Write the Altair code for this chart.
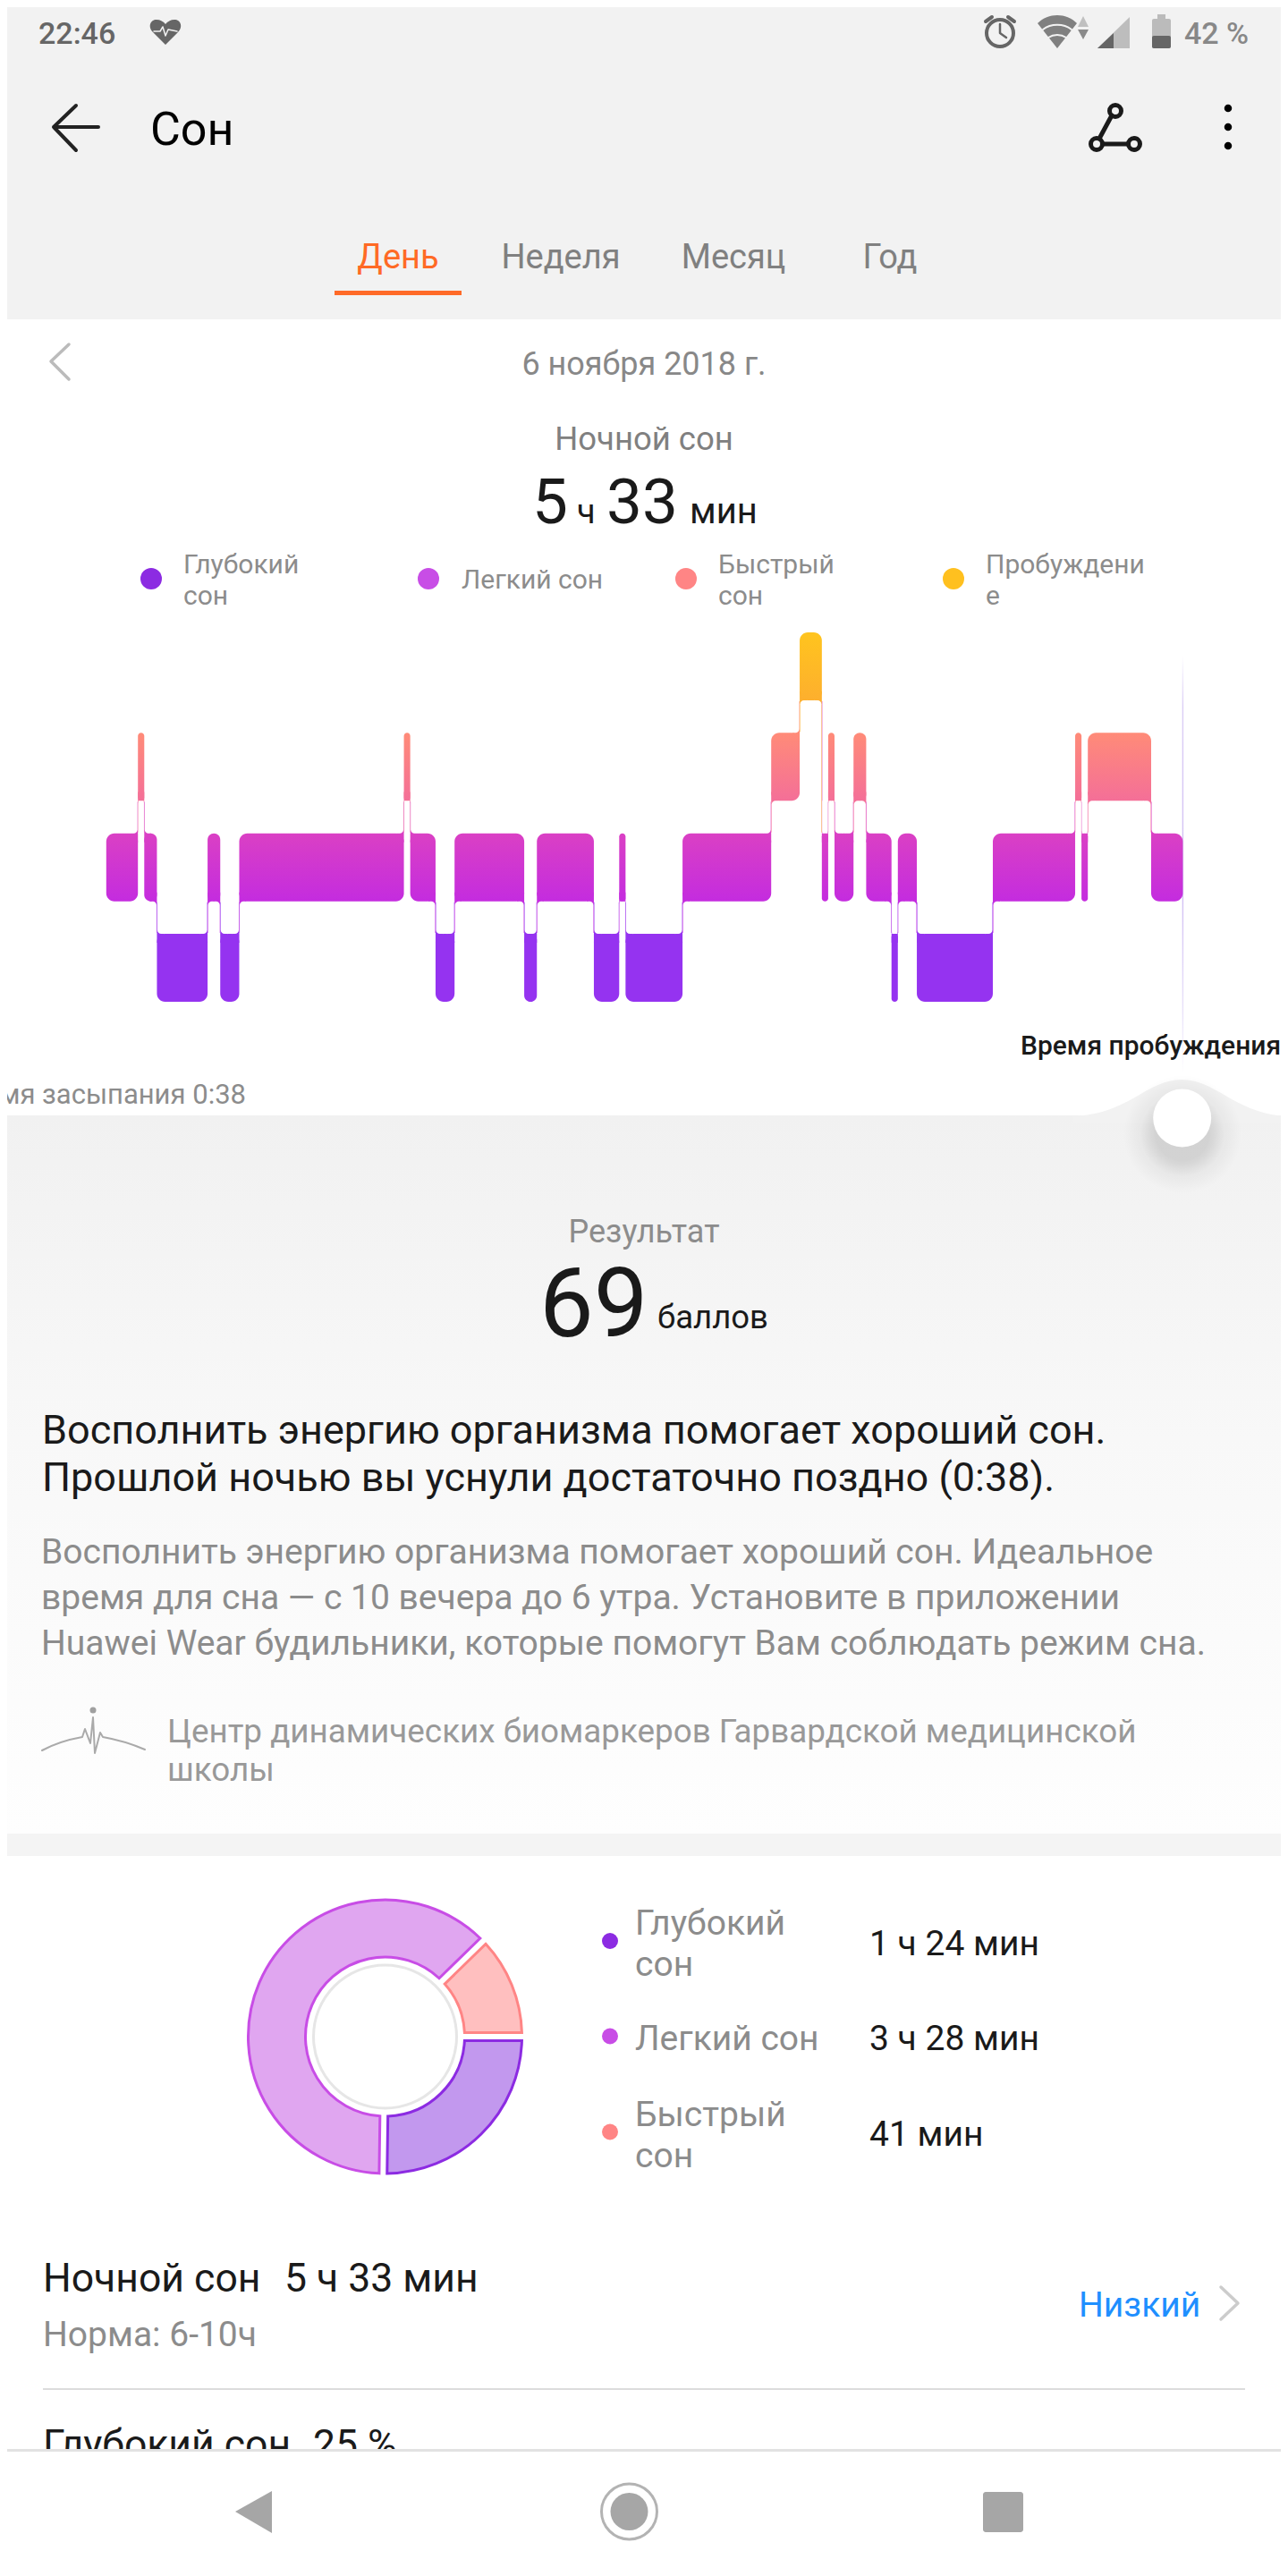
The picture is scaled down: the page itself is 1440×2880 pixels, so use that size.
import re

import altair as alt
import numpy as np
import pandas as pd

# sleep phases in order, minutes (deep 84, light 208, rem 41, awake 7)
phases = ["light", "rem", "light", "deep", "light", "deep", "light", "rem", "light", "deep", "light",
          "deep", "light", "deep", "light", "deep", "light", "rem", "awake", "light", "rem", "light",
          "rem", "light", "deep", "light", "deep", "light", "rem", "light", "rem", "light"]
minutes = [10, 2, 4, 16, 4, 6, 52, 2, 8, 6, 22,
           4, 18, 8, 2, 18, 28, 9, 7, 2, 2, 6,
           4, 8, 2, 6, 24, 26, 2, 2, 20, 10]
lanes = {"deep": 0, "light": 1, "rem": 2, "awake": 3}

donut_labels = ["deep", "light", "rem"]
donut_minutes = [84, 208, 41]
donut_fill = ["#c298ee", "#e0a6f0", "#ffbfbf"]
donut_stroke = ["#8c2be2", "#c84de6", "#ff8585"]

grad_top = {"deep": "#9533f0", "light": "#da40c4", "rem": "#ff8b78", "awake": "#ffc41e"}
grad_bottom = {"deep": "#9533f0", "light": "#c42cdf", "rem": "#f46f98", "awake": "#fdaf2e"}

FONT = "Roboto"
GRAY = "#8c8c8c"
INK = "#1a1a1a"
BAR_H = 0.677
PX = 3.54  # pixels per minute
LANE_PX = 112.3
FILLET = 9 / PX
GAP = 0.5 / PX
EXT = 10 / LANE_PX
TRIM_X = 1 / PX
TRIM_Y = 1 / LANE_PX

one = pd.DataFrame({"n": [0]})


def px(v):
    return v - 8


def rect(x, x2, y, y2, color, **kw):
    return alt.Chart(one).mark_rect(color=color, **kw).encode(
        x=alt.value(px(x)), x2=alt.value(px(x2)), y=alt.value(px(y)), y2=alt.value(px(y2)))


def label(text, x, y, size, color=GRAY, align="left", **kw):
    return alt.Chart(one).mark_text(font=FONT, fontSize=size, color=color, align=align,
                                    baseline="alphabetic", **kw).encode(
        x=alt.value(px(x)), y=alt.value(px(y)), text=alt.value(text))


def glyph(d, color, width=None, half=100.0, cx=720.0, cy=1440.0):
    # path is written in page pixels, symbols want it in -1..1 around the mark
    nums = iter(range(10000))

    def conv(m):
        v = float(m.group(0))
        c = cx if next(nums) % 2 == 0 else cy
        return f"{(v - c) / half:.5f}"

    shape = re.sub(r"-?\d+\.?\d*", conv, d)
    if width is None:
        mark = alt.Chart(one).mark_point(shape=shape, filled=True, color=color, opacity=1,
                                         size=(2 * half) ** 2)
    else:
        mark = alt.Chart(one).mark_point(shape=shape, filled=False, color=color, opacity=1,
                                         strokeWidth=width, strokeCap="round", strokeJoin="round",
                                         size=(2 * half) ** 2)
    return mark.encode(x=alt.value(px(cx)), y=alt.value(px(cy)))


def dot(x, y, d, color, opacity=1):
    return alt.Chart(one).mark_point(shape="circle", filled=True, color=color, opacity=opacity,
                                     size=d ** 2).encode(x=alt.value(px(x)), y=alt.value(px(y)))


def ring(x, y, d, color, width, fill=None):
    kw = {"fill": fill} if fill else {}
    return alt.Chart(one).mark_point(shape="circle", stroke=color, strokeWidth=width, opacity=1,
                                     size=d ** 2, **kw).encode(x=alt.value(px(x)), y=alt.value(px(y)))


def vgrad(stops):
    return alt.Gradient(gradient="linear", x1=1, y1=0, x2=1, y2=1,
                        stops=[alt.GradientStop(offset=o, color=c) for o, c in stops])


# sleep table
sleep = pd.DataFrame({"phase": phases, "minutes": minutes})
sleep["end"] = sleep["minutes"].cumsum()
sleep["start"] = sleep["end"] - sleep["minutes"]
sleep["y0"] = sleep["phase"].map(lanes)
sleep["y1"] = sleep["y0"] + BAR_H

total = int(sleep["end"].iloc[-1])
X_SCALE = alt.Scale(domain=[0, total], range=[px(118.8), px(118.8 + total * PX)], nice=False, zero=False)
Y_SCALE = alt.Scale(domain=[0, 3.677], range=[px(1120), px(707)], nice=False, zero=False)
enc = dict(x=alt.X("start:Q", scale=X_SCALE, axis=None), x2=alt.X2("end"),
           y=alt.Y("y0:Q", scale=Y_SCALE, axis=None), y2=alt.Y2("y1"))

# joints between neighbouring phases: coloured backing, white masks with one round corner on top
backs, masks = [], []
for i in range(len(sleep) - 1):
    a, b = sleep.iloc[i], sleep.iloc[i + 1]
    t = a["end"]
    left_upper = a["y0"] > b["y0"]
    low_top = min(a["y0"], b["y0"]) + BAR_H
    up_bottom = max(a["y0"], b["y0"])
    lx = max(t - FILLET, a["start"] + GAP)
    rx = min(t + FILLET, b["end"] - GAP)
    if left_upper:
        backs.append(dict(start=lx + TRIM_X, end=t, y0=low_top + TRIM_Y, y1=up_bottom + EXT, c=grad_bottom[a["phase"]]))
        backs.append(dict(start=t, end=rx - TRIM_X, y0=low_top - EXT, y1=up_bottom - TRIM_Y, c=grad_top[b["phase"]]))
        masks.append(dict(start=lx, end=t - GAP, y0=low_top, y1=up_bottom, corner="TopRight"))
        masks.append(dict(start=t + GAP, end=rx, y0=low_top, y1=up_bottom, corner="BottomLeft"))
    else:
        backs.append(dict(start=lx + TRIM_X, end=t, y0=low_top - EXT, y1=up_bottom - TRIM_Y, c=grad_top[a["phase"]]))
        backs.append(dict(start=t, end=rx - TRIM_X, y0=low_top + TRIM_Y, y1=up_bottom + EXT, c=grad_bottom[b["phase"]]))
        masks.append(dict(start=lx, end=t - GAP, y0=low_top, y1=up_bottom, corner="BottomRight"))
        masks.append(dict(start=t + GAP, end=rx, y0=low_top, y1=up_bottom, corner="TopLeft"))
backs = pd.DataFrame(backs)
masks = pd.DataFrame(masks)

layers = []

# page blocks
layers.append(rect(0, 1440, 0, 357, "#f2f2f2"))
layers.append(rect(0, 1440, 1247, 2050, vgrad([(0, "#f1f1f1"), (0.45, "#f8f8f8"), (1, "#fefefe")])))
layers.append(rect(0, 1440, 2050, 2075, "#f4f4f4"))

# wake-up line
end_line = pd.DataFrame({"start": [total - 0.2], "end": [total + 0.2], "y0": [0], "y1": [1]})
layers.append(alt.Chart(end_line).mark_bar(
    color=vgrad([(0, "#ffffff"), (0.12, "#dccff6"), (0.55, "#d0bdf4"), (0.85, "#e9e2fa"), (1, "#ffffff")])
).encode(x=enc["x"], x2=enc["x2"], y=alt.value(px(733)), y2=alt.value(px(1200))))

# slider bump and its soft shadow
layers.append(glyph("M1200 1248 C1262 1246 1282 1207 1321 1207 C1360 1207 1382 1246 1440 1248 L1440 1256 L1200 1256 Z",
                    "#f2f2f2"))
shadow = alt.Gradient(gradient="radial", x1=0.5, y1=0.5, x2=0.5, y2=0.5, r1=0, r2=0.5,
                      stops=[alt.GradientStop(offset=0.45, color="rgba(0,0,0,0.13)"),
                             alt.GradientStop(offset=0.72, color="rgba(0,0,0,0.04)"),
                             alt.GradientStop(offset=1, color="rgba(0,0,0,0)")])
layers.append(alt.Chart(one).mark_point(shape="circle", fill=shadow, strokeWidth=0, opacity=1, size=132 ** 2).encode(
    x=alt.value(px(1322)), y=alt.value(px(1268))))
layers.append(dot(1321.7, 1250, 65, "#ffffff"))

# sleep bars
layers.append(alt.Chart(backs).mark_bar().encode(color=alt.Color("c:N", scale=None, legend=None), **enc))
for corner in ["TopRight", "BottomLeft", "BottomRight", "TopLeft"]:
    part = masks[masks["corner"] == corner]
    layers.append(alt.Chart(part).mark_bar(color="#ffffff", **{f"cornerRadius{corner}": 8}).encode(**enc))
for phase in lanes:
    part = sleep[sleep["phase"] == phase]
    layers.append(alt.Chart(part).mark_bar(
        color=vgrad([(0, grad_top[phase]), (1, grad_bottom[phase])]), cornerRadius=9).encode(**enc))

# status bar
layers.append(label("22:46", 43, 49, 34, "#666666", fontWeight=500))
layers.append(glyph("M185 50 L171 36 C165 30 168 22 175 22 C179 22 183 24 185 27 C187 24 191 22 195 22 C202 22 205 30 199 36 Z", "#666666"))
layers.append(glyph("M172 35 L179 35 L182 30 L185 40 L188 33 L198 35", "#f2f2f2", width=1.5))
layers.append(ring(1118, 37, 30, "#666666", 4))
layers.append(glyph("M1118 27 L1118 37 L1125 42", "#666666", width=2.5))
layers.append(glyph("M1102 24 L1109 19 M1134 24 L1127 19", "#666666", width=4))
layers.append(glyph("M1160 26 C1172 14 1192 14 1204 26 L1182 54 Z", "#808080"))
layers.append(glyph("M1166 33 C1175 26 1189 26 1198 33 M1172 42 C1178 38 1186 38 1192 42", "#f2f2f2", width=2))
layers.append(glyph("M1205 30 L1211 18 L1217 30 Z", "#c0c0c0"))
layers.append(glyph("M1205 33 L1217 33 L1211 44 Z", "#8a8a8a"))
layers.append(glyph("M1227 54 L1263 19 L1263 54 Z", "#bdbdbd"))
layers.append(glyph("M1227 54 L1245 37 L1245 54 Z", "#666666"))
layers.append(rect(1288, 1309, 21, 54, "#bbbbbb", cornerRadius=2))
layers.append(rect(1294, 1303, 16, 22, "#bbbbbb"))
layers.append(rect(1288, 1309, 40, 54, "#666666", cornerRadius=2))
layers.append(label("42 %", 1324, 49, 34, "#888888", fontWeight=500))

# header
layers.append(glyph("M110 142 L60 142 M85 118 L60 142 L85 168", "#222222", width=4))
layers.append(label("Сон", 168, 162, 52, "#000000"))
layers.append(glyph("M1243 129 L1229 155 M1233 161 L1261 161", INK, width=5))
for x, y in [(1247, 124), (1226, 161), (1268, 161)]:
    layers.append(ring(x, y, 13, INK, 5))
for y in [121, 142, 163]:
    layers.append(dot(1373, y, 8.5, "#000000"))

# tabs
layers.append(label("День", 445, 300, 38, "#ff6a25", align="center"))
layers.append(label("Неделя", 627, 300, 38, "#808080", align="center"))
layers.append(label("Месяц", 820, 300, 38, "#808080", align="center"))
layers.append(label("Год", 995, 300, 38, "#808080", align="center"))
layers.append(rect(374, 516, 325, 330, "#ff6a28"))

# date and total
layers.append(glyph("M77 385 L57 404 L77 424", "#bbbbbb", width=3.5))
layers.append(label("6 ноября 2018 г.", 720, 419, 36, "#888888", align="center"))
layers.append(label("Ночной сон", 720, 503, 36.5, "#808080", align="center"))
layers.append(label("5", 595, 585, 71, INK))
layers.append(label("ч", 645, 585, 38, INK))
layers.append(label("33", 678, 585, 71, INK))
layers.append(label("мин", 771, 585, 40, INK))

# top legend
for x, c in [(169, donut_stroke[0]), (479, donut_stroke[1]), (767, donut_stroke[2]), (1066, "#ffc01f")]:
    layers.append(dot(x, 647, 24, c))
layers.append(label("Глубокий", 205, 641, 30))
layers.append(label("сон", 205, 676, 30))
layers.append(label("Легкий сон", 516, 658, 30))
layers.append(label("Быстрый", 803, 641, 30))
layers.append(label("сон", 803, 676, 30))
layers.append(label("Пробуждени", 1102, 641, 30))
layers.append(label("е", 1102, 676, 30))

layers.append(label("Время засыпания 0:38", 275, 1234, 31, align="right"))
layers.append(label("Время пробуждения", 1141, 1179, 30, INK, fontWeight=500))

# score block
layers.append(label("Результат", 720, 1389, 36, align="center"))
layers.append(label("69", 603, 1494, 108, INK))
layers.append(label("баллов", 735, 1485, 36.5, INK))
layers.append(label("Восполнить энергию организма помогает хороший сон.", 47, 1614, 45, INK))
layers.append(label("Прошлой ночью вы уснули достаточно поздно (0:38).", 47, 1667, 45, INK))
layers.append(label("Восполнить энергию организма помогает хороший сон. Идеальное", 46, 1748, 39))
layers.append(label("время для сна — с 10 вечера до 6 утра. Установите в приложении", 46, 1799, 39))
layers.append(label("Huawei Wear будильники, которые помогут Вам соблюдать режим сна.", 46, 1850, 39))
layers.append(glyph("M47 1957 C60 1950 75 1945 92 1942 L95 1933 L101 1949 L104 1920 L106 1960 L112 1937 L115 1942 C132 1945 148 1950 162 1956",
                    "#aaaaaa", width=2))
layers.append(dot(104, 1912, 7, "#a0a0a0"))
layers.append(label("Центр динамических биомаркеров Гарвардской медицинской", 187, 1948, 36.8, "#999999"))
layers.append(label("школы", 187, 1991, 36.8, "#999999"))

# donut
pie = pd.DataFrame({"phase": donut_labels, "minutes": donut_minutes})
pie["end"] = pie["minutes"].cumsum()
pie["start"] = pie["end"] - pie["minutes"]
layers.append(ring(430.5, 2277, 160, "#e6e6e6", 3, fill="#ffffff"))
layers.append(alt.Chart(pie).mark_arc(innerRadius=89, outerRadius=153, padAngle=0.05, strokeWidth=3).encode(
    theta=alt.Theta("start:Q", scale=alt.Scale(domain=[0, int(pie["end"].iloc[-1])],
                                               range=[np.pi / 2, np.pi / 2 + 2 * np.pi])),
    theta2=alt.Theta2("end"),
    fill=alt.Fill("phase:N", scale=alt.Scale(domain=donut_labels, range=donut_fill), legend=None),
    stroke=alt.Stroke("phase:N", scale=alt.Scale(domain=donut_labels, range=donut_stroke), legend=None),
    x=alt.value(px(430.5)), y=alt.value(px(2277))))

for y, c in zip([2170, 2276.5, 2383.5], donut_stroke):
    layers.append(dot(682, y, 18, c))
layers.append(label("Глубокий", 710, 2163, 39))
layers.append(label("сон", 710, 2209, 39))
layers.append(label("Легкий сон", 710, 2292, 39))
layers.append(label("Быстрый", 710, 2377, 39))
layers.append(label("сон", 710, 2423, 39))
layers.append(label("1 ч 24 мин", 972, 2186, 39, INK))
layers.append(label("3 ч 28 мин", 972, 2292, 39, INK))
layers.append(label("41 мин", 972, 2399, 39, INK))

# list rows
layers.append(label("Ночной сон", 48, 2562, 44.5, INK))
layers.append(label("5 ч 33 мин", 318, 2562, 44.5, INK))
layers.append(label("Норма: 6-10ч", 48, 2623, 39))
layers.append(label("Низкий", 1206, 2590, 39, "#1f8fff"))
layers.append(glyph("M1365 2557 L1384 2575 L1365 2593", "#cccccc", width=3.5))
layers.append(rect(48, 1392, 2670, 2672, "#dcdcdc"))
layers.append(label("Глубокий сон", 48, 2748, 44.5, INK))
layers.append(label("25 %", 350, 2748, 44.5, INK))

# nav bar
layers.append(rect(0, 1440, 2738, 2880, "#ffffff"))
layers.append(rect(0, 1440, 2738, 2741, "#e2e2e2"))
layers.append(glyph("M263 2808 L304 2785 L304 2832 Z", "#a6a6a6"))
layers.append(ring(703.5, 2808, 62, "#b3b3b3", 3))
layers.append(dot(703.5, 2808, 42, "#a6a6a6"))
layers.append(rect(1099, 1144, 2786, 2831, "#a6a6a6", cornerRadius=3))

chart = alt.layer(*layers).properties(
    width=1424, height=2872, padding=0, autosize="none", background="#ffffff"
).configure_view(strokeWidth=0)

chart.save("out.html", embed_options={"renderer": "svg", "actions": False})
